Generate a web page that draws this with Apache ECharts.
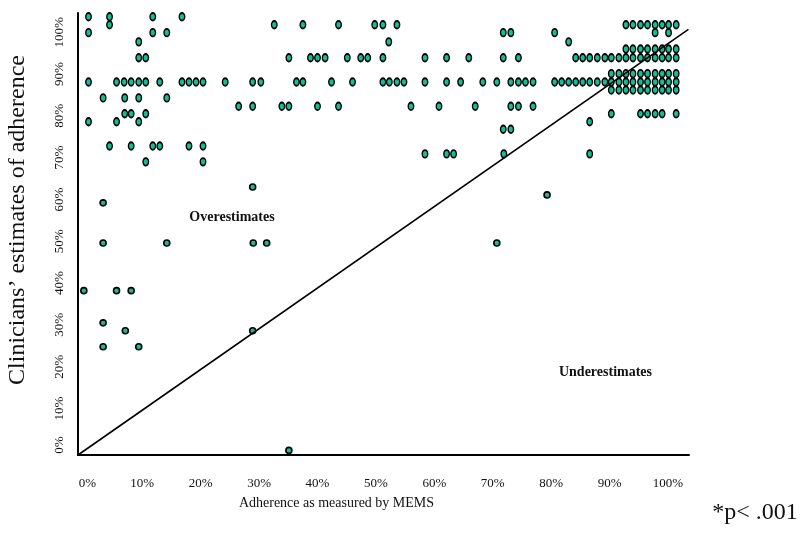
<!DOCTYPE html>
<html>
<head>
<meta charset="utf-8">
<script src="https://cdn.jsdelivr.net/npm/echarts@6/dist/echarts.min.js"></script>
<style>html,body{margin:0;padding:0;background:#fff}#c{width:801px;height:540px}</style>
</head>
<body>
<div id="c"></div>
<script>
// ---- tick labels ----
const xTickValues = [0, 10, 20, 30, 40, 50, 60, 70, 80, 90, 100];
const yTickValues = [0, 10, 20, 30, 40, 50, 60, 70, 80, 90, 100];

// ---- axis extents (percent) ----
const xRange = [-1.0, 103.6];
const yRange = [-1.1, 104.6];

// ---- data: MEMS adherence (%) of patients, grouped by clinician estimate (%) ----
const blockColumns = [92.8, 94.0, 95.3, 96.5, 97.8, 99.0, 100.1, 101.4];
const memsAt103_7 = [0.8, 4.4, 11.8, 16.8];
const memsAt101_8 = [4.4, 32.6, 37.5, 43.6, 49.8, 51.2, 53.6].concat(blockColumns);
const memsAt99_9 = [0.8, 11.8, 14.2, 71.8, 73.1, 80.6, 97.8, 100.1];
const memsAt97_7 = [9.4, 52.2, 83.0];
const memsAt96_0 = blockColumns;
const memsAt93_9 = [9.4, 10.6, 35.1, 38.8, 40.0, 41.3, 45.1, 47.4, 48.6, 51.2, 58.4, 62.1, 65.9, 71.8, 74.4, 84.2, 85.4, 86.6, 87.9, 89.2, 90.3, 91.6].concat(blockColumns);
const memsAt90_1 = [90.3, 91.6].concat(blockColumns);
const memsAt88_1 = [0.8, 5.6, 6.9, 8.1, 9.4, 10.6, 13.0, 16.8, 18.0, 19.2, 20.4, 24.2, 28.9, 30.3, 36.4, 37.5, 42.4, 46.0, 51.2, 52.3, 53.6, 54.8, 58.4, 62.1, 64.5, 68.3, 70.7, 73.1, 74.4, 75.6, 76.9, 80.6, 81.8, 83.0, 84.2, 85.4, 86.6, 87.9, 89.2, 90.3, 91.6].concat(blockColumns);
const memsAt86_2 = [90.3, 91.6].concat(blockColumns);
const memsAt84_3 = [3.3, 7.0, 9.4, 14.2];
const memsAt82_3 = [26.5, 28.9, 33.9, 35.1, 40.0, 43.6, 56.0, 60.8, 67.0, 73.1, 74.4, 76.9];
const memsAt80_5 = [7.0, 8.1, 10.6, 90.3, 95.3, 96.5, 97.8, 99.0, 101.4];
const memsAt78_6 = [0.8, 5.6, 9.4, 86.6];
const memsAt76_8 = [71.8, 73.1];
const memsAt72_8 = [4.4, 8.1, 11.8, 13.0, 18.0, 20.4];
const memsAt70_9 = [58.4, 62.1, 63.3, 71.9, 86.6];
const memsAt69_0 = [10.6, 20.4];
const memsAt49_6 = [3.3, 14.2, 29.0, 31.3, 70.7];
const memsAt38_2 = [0, 5.6, 8.1];
// isolated points [MEMS, estimate]
const isolatedPoints = [[28.9, 63.0], [79.3, 61.1], [3.3, 59.2], [3.3, 30.5], [7.1, 28.6], [28.9, 28.6], [3.3, 24.8], [9.4, 24.8], [35.1, 0]];
// line of perfect agreement (from the axes' origin corner to top right)
const agreementLine = [[-1.0, -1.1], [103.5, 100.7]];

const estimateRows = [
  [103.7, memsAt103_7], [101.8, memsAt101_8], [99.9, memsAt99_9], [97.7, memsAt97_7],
  [96.0, memsAt96_0], [93.9, memsAt93_9], [90.1, memsAt90_1], [88.1, memsAt88_1],
  [86.2, memsAt86_2], [84.3, memsAt84_3], [82.3, memsAt82_3], [80.5, memsAt80_5],
  [78.6, memsAt78_6], [76.8, memsAt76_8], [72.8, memsAt72_8], [70.9, memsAt70_9],
  [69.0, memsAt69_0], [49.6, memsAt49_6], [38.2, memsAt38_2]
];
const points = [];
estimateRows.forEach(([est, arr]) => arr.forEach(m => points.push([m, est])));
isolatedPoints.forEach(p => points.push(p));

const serif = '"Liberation Serif", "Times New Roman", serif';
const pct = v => Math.round(v / 10) * 10 + '%';

const chart = echarts.init(document.getElementById('c'), null, {renderer: 'canvas'});
chart.setOption({
  animation: false,
  backgroundColor: '#fff',
  grid: {left: 78, right: 112, top: 13, bottom: 85},
  xAxis: {
    type: 'value', min: xRange[0], max: xRange[1],
    axisLine: {show: true, onZero: false, lineStyle: {color: '#000', width: 2}},
    axisTick: {show: false}, splitLine: {show: false},
    axisLabel: {
      customValues: xTickValues.map((v, i) => i === 0 ? v + 0.6 : v),
      formatter: pct, margin: 22, fontFamily: serif, fontSize: 13, color: '#111'
    }
  },
  yAxis: {
    type: 'value', min: yRange[0], max: yRange[1],
    axisLine: {show: true, onZero: false, lineStyle: {color: '#000', width: 2}},
    axisTick: {show: false}, splitLine: {show: false},
    axisLabel: {
      customValues: yTickValues.map((v, i) => i === 0 ? v + 1.3 : v),
      formatter: pct, rotate: 90, margin: 12, fontFamily: serif, fontSize: 13, color: '#111'
    }
  },
  series: [
    {
      type: 'scatter', data: points, symbol: 'circle', clip: false, silent: true, z: 2,
      symbolSize: v => v[1] > 65 ? [5.5, 7.5] : [6, 6],
      itemStyle: {color: '#10bf96', borderColor: '#000', borderWidth: 1.6, opacity: 1}
    },
    {
      type: 'line', data: agreementLine, symbol: 'none', clip: false, silent: true, z: 3,
      lineStyle: {color: '#000', width: 1.6}
    }
  ],
  graphic: [
    {type: 'text', x: 18, y: 220, rotation: Math.PI / 2,
     style: {text: 'Clinicians\u2019 estimates of adherence', font: '24px ' + serif, fill: '#111', align: 'center', verticalAlign: 'middle'}},
    {type: 'text', x: 336.5, y: 503,
     style: {text: 'Adherence as measured by MEMS', font: '14px ' + serif, fill: '#111', align: 'center', verticalAlign: 'middle'}},
    {type: 'text', x: 232, y: 217,
     style: {text: 'Overestimates', font: 'bold 14px ' + serif, fill: '#111', align: 'center', verticalAlign: 'middle'}},
    {type: 'text', x: 605.5, y: 372,
     style: {text: 'Underestimates', font: 'bold 14px ' + serif, fill: '#111', align: 'center', verticalAlign: 'middle'}},
    {type: 'text', x: 755, y: 513,
     style: {text: '*p< .001', font: '24px ' + serif, fill: '#111', align: 'center', verticalAlign: 'middle'}}
  ]
});
</script>
</body>
</html>
